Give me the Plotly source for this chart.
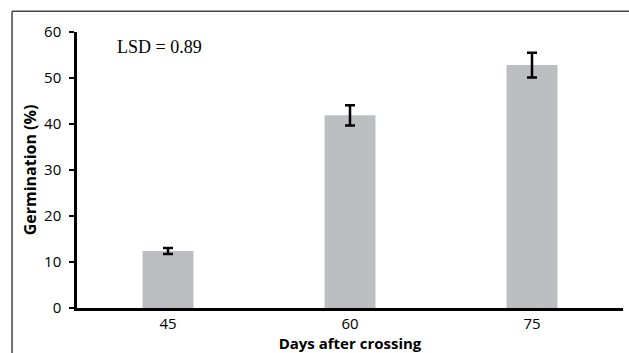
import plotly.graph_objects as go

days = ["45", "60", "75"]
germination = [12.4, 41.9, 52.8]
errors = [0.65, 2.2, 2.7]
y_ticks = [0, 10, 20, 30, 40, 50, 60]

fig = go.Figure()
fig.add_trace(go.Bar(
    x=days, y=germination,
    marker=dict(color="#BDBEC2", line=dict(width=0)),
    width=0.28,
    error_y=dict(type="data", array=errors, visible=True, color="black", thickness=2.5, width=5),
))

fig.update_layout(
    width=629, height=353,
    margin=dict(l=77, r=6, t=32, b=45),
    plot_bgcolor="white", paper_bgcolor="white",
    showlegend=False,
    font=dict(family="Open Sans, sans-serif", color="black", size=13),
    xaxis=dict(
        showline=True, linecolor="black", linewidth=2.5,
        ticks="", showgrid=False,
        tickfont=dict(size=15, family="Open Sans"),
        title=dict(text="<b>Days after crossing</b>", font=dict(size=15), standoff=0),
    ),
    yaxis=dict(
        range=[0, 60], tickvals=y_ticks,
        showline=True, linecolor="black", linewidth=2.5,
        ticks="outside", ticklen=5, tickwidth=2, tickcolor="black",
        ticklabelstandoff=5,
        showgrid=False, zeroline=False,
        tickfont=dict(size=15, family="Open Sans"),
        title=dict(text="<b>Germination (%)</b>", font=dict(size=16), standoff=4),
    ),
)

fig.add_annotation(
    xref="paper", yref="paper", x=0.0696, y=0.946,
    xanchor="left", yanchor="middle", showarrow=False,
    text="LSD = 0.89",
    font=dict(family="Liberation Serif, Times New Roman, serif", size=18, color="black"),
)

# partial figure frame (top and left edges)
fig.add_shape(type="line", xref="paper", yref="paper",
              x0=-0.119, y0=1.075, x1=1.02, y1=1.075,
              line=dict(color="#444444", width=1.5))
fig.add_shape(type="line", xref="paper", yref="paper",
              x0=-0.119, y0=1.075, x1=-0.119, y1=-0.2,
              line=dict(color="#444444", width=1.5))

fig.write_html("out.html", config={"displayModeBar": False},
               post_script="document.body.style.margin='0';")
